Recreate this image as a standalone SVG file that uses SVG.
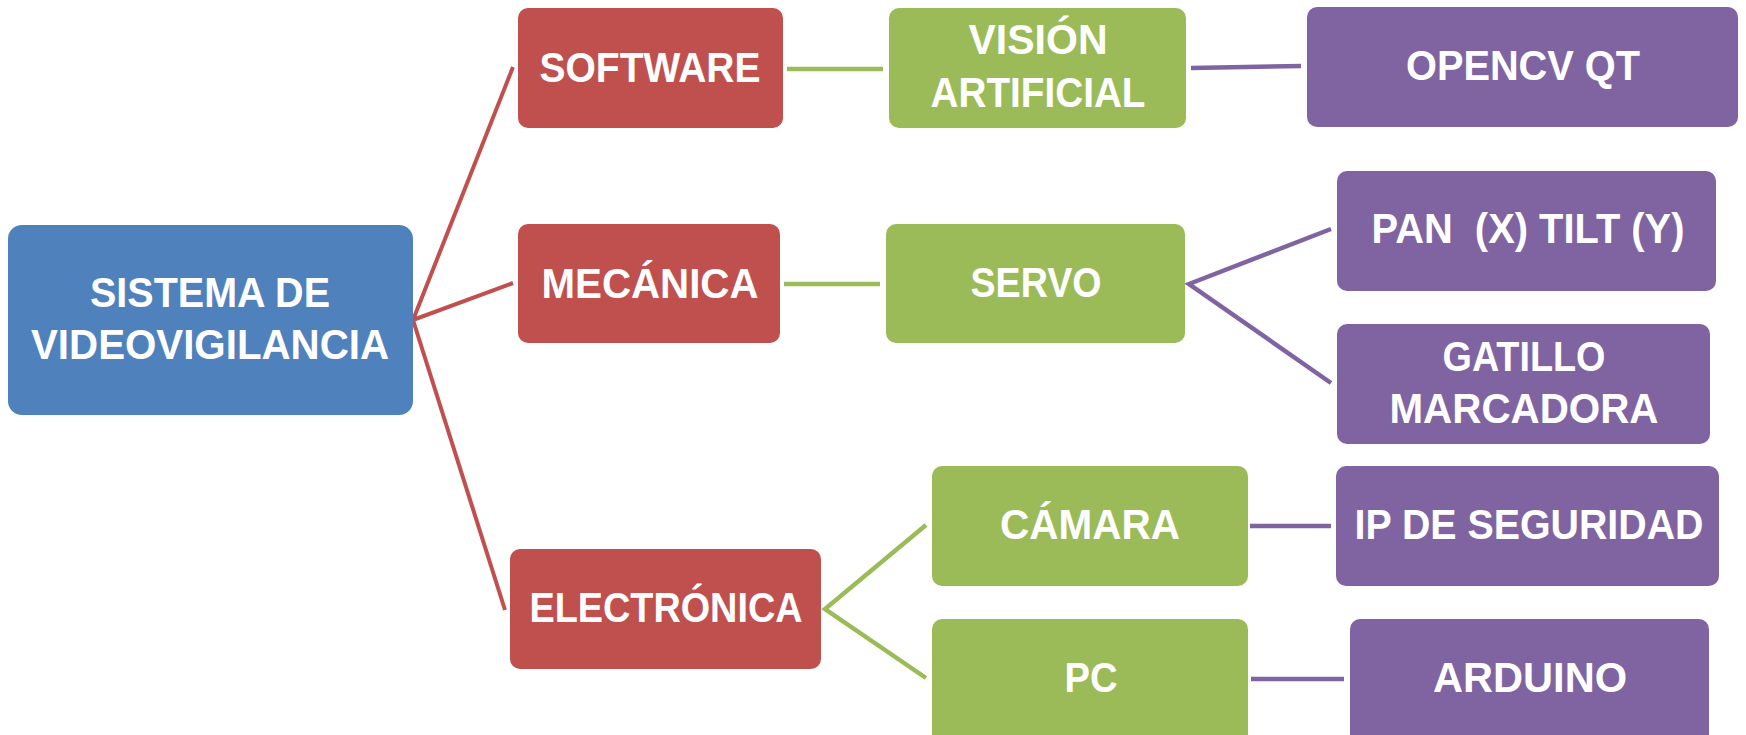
<svg xmlns="http://www.w3.org/2000/svg" width="1746" height="735" viewBox="0 0 1746 735">
  <style>
    .blue { fill: #4F81BD; }
    .red { fill: #C0504D; }
    .green { fill: #9BBB59; }
    .purple { fill: #8064A2; }
    .lbl { font-family: "Liberation Sans", Arial, sans-serif; font-weight: bold; font-size: 42px; fill: #FFFFFF; text-anchor: middle; }
    .c-red { stroke: #C0504D; stroke-width: 4; fill: none; }
    .c-green { stroke: #9BBB59; stroke-width: 4.5; fill: none; }
    .c-purple { stroke: #8064A2; stroke-width: 4.5; fill: none; }
  </style>
  <rect width="1746" height="735" fill="#FFFFFF"/>

  <!-- connectors -->
  <g id="connectors">
    <polyline class="c-red" points="513,67 413,320 513,283"/>
    <line class="c-red" x1="413" y1="320" x2="505" y2="610"/>
    <line class="c-green" x1="787" y1="69" x2="883" y2="69"/>
    <line class="c-green" x1="784" y1="284" x2="880" y2="284"/>
    <polyline class="c-green" points="926,525 825,609 926,678"/>
    <line class="c-purple" x1="1191" y1="68" x2="1301" y2="66"/>
    <polyline class="c-purple" points="1331,229 1189,284 1331,383"/>
    <line class="c-purple" x1="1250" y1="526" x2="1331" y2="526"/>
    <line class="c-purple" x1="1251" y1="679" x2="1344" y2="679"/>
  </g>

  <!-- root -->
  <g id="sistema">
    <rect class="blue" x="8" y="225" width="405" height="190" rx="14"/>
    <text class="lbl" x="210" y="307" textLength="240" lengthAdjust="spacingAndGlyphs">SISTEMA DE</text>
    <text class="lbl" x="210" y="359" textLength="358" lengthAdjust="spacingAndGlyphs">VIDEOVIGILANCIA</text>
  </g>

  <!-- first level -->
  <g id="software">
    <rect class="red" x="518" y="8" width="265" height="120" rx="10"/>
    <text class="lbl" x="650" y="82" textLength="221" lengthAdjust="spacingAndGlyphs">SOFTWARE</text>
  </g>
  <g id="mecanica">
    <rect class="red" x="518" y="224" width="262" height="119" rx="10"/>
    <text class="lbl" x="650" y="298" textLength="217" lengthAdjust="spacingAndGlyphs">MECÁNICA</text>
  </g>
  <g id="electronica">
    <rect class="red" x="510" y="549" width="311" height="120" rx="10"/>
    <text class="lbl" x="666" y="622" textLength="273" lengthAdjust="spacingAndGlyphs">ELECTRÓNICA</text>
  </g>

  <!-- second level -->
  <g id="vision">
    <rect class="green" x="889" y="8" width="297" height="120" rx="10"/>
    <text class="lbl" x="1038" y="54" textLength="139" lengthAdjust="spacingAndGlyphs">VISIÓN</text>
    <text class="lbl" x="1038" y="107" textLength="215" lengthAdjust="spacingAndGlyphs">ARTIFICIAL</text>
  </g>
  <g id="servo">
    <rect class="green" x="886" y="224" width="299" height="119" rx="10"/>
    <text class="lbl" x="1036" y="297" textLength="131" lengthAdjust="spacingAndGlyphs">SERVO</text>
  </g>
  <g id="camara">
    <rect class="green" x="932" y="466" width="316" height="120" rx="10"/>
    <text class="lbl" x="1090" y="539" textLength="180" lengthAdjust="spacingAndGlyphs">CÁMARA</text>
  </g>
  <g id="pc">
    <rect class="green" x="932" y="619" width="316" height="130" rx="10"/>
    <text class="lbl" x="1091" y="692" textLength="53" lengthAdjust="spacingAndGlyphs">PC</text>
  </g>

  <!-- third level -->
  <g id="opencv">
    <rect class="purple" x="1307" y="7" width="431" height="120" rx="10"/>
    <text class="lbl" x="1523" y="80" textLength="234" lengthAdjust="spacingAndGlyphs">OPENCV QT</text>
  </g>
  <g id="pantilt">
    <rect class="purple" x="1337" y="171" width="379" height="120" rx="10"/>
    <text class="lbl" x="1528" y="243" textLength="313" lengthAdjust="spacingAndGlyphs" xml:space="preserve">PAN  (X) TILT (Y)</text>
  </g>
  <g id="gatillo">
    <rect class="purple" x="1337" y="324" width="373" height="120" rx="10"/>
    <text class="lbl" x="1524" y="371" textLength="163" lengthAdjust="spacingAndGlyphs">GATILLO</text>
    <text class="lbl" x="1524" y="423" textLength="269" lengthAdjust="spacingAndGlyphs">MARCADORA</text>
  </g>
  <g id="ipseguridad">
    <rect class="purple" x="1336" y="466" width="383" height="120" rx="10"/>
    <text class="lbl" x="1529" y="539" textLength="349" lengthAdjust="spacingAndGlyphs">IP DE SEGURIDAD</text>
  </g>
  <g id="arduino">
    <rect class="purple" x="1350" y="619" width="359" height="130" rx="10"/>
    <text class="lbl" x="1530" y="692" textLength="194" lengthAdjust="spacingAndGlyphs">ARDUINO</text>
  </g>
</svg>
